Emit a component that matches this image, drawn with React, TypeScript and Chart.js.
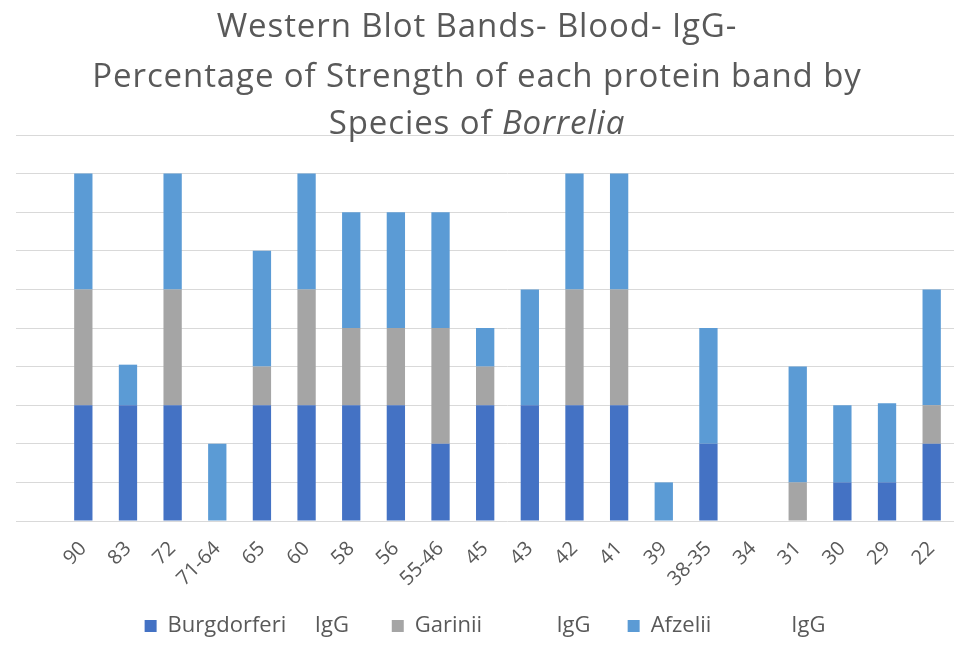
import React, { useEffect, useRef } from "react";
import { Chart, registerables } from "chart.js";

Chart.register(...registerables);

const categories = ["90", "83", "72", "71-64", "65", "60", "58", "56", "55-46", "45", "43", "42", "41", "39", "38-35", "34", "31", "30", "29", "22"];
const burgdorferi = [3, 3, 3, 0, 3, 3, 3, 3, 2, 3, 3, 3, 3, 0, 2, 0, 0, 1, 1, 2];
const garinii = [3, 0, 3, 0, 1, 3, 2, 2, 3, 1, 0, 3, 3, 0, 0, 0, 1, 0, 0, 1];
const afzelii = [3, 1.05, 3, 2, 3, 3, 3, 3, 3, 1, 3, 3, 3, 1, 3, 0, 3, 2, 2.05, 3];
const seriesNames = [
  "Burgdorferi     IgG    ",
  "Garinii             IgG   ",
  "Afzelii              IgG",
];
const titleLines = ["Western Blot Bands- Blood- IgG-", "Percentage of Strength of each protein band by"];
const titleLast = ["Species of ", "Borrelia"];

const FONT = "'Open Sans', sans-serif";
const TEXT = "#595959";

const titlePlugin = {
  id: "customTitle",
  afterDraw(chart: any) {
    const ctx = chart.ctx;
    const cx = 477;
    const size = 33;
    ctx.save();
    ctx.fillStyle = TEXT;
    (ctx as any).letterSpacing = "0.9px";
    ctx.textBaseline = "alphabetic";
    ctx.textAlign = "center";
    ctx.font = `${size}px ${FONT}`;
    ctx.fillText(titleLines[0], cx, 37);
    ctx.fillText(titleLines[1], cx, 87);
    ctx.textAlign = "left";
    const normalFont = `${size}px ${FONT}`;
    const italicFont = `italic ${size}px ${FONT}`;
    ctx.font = normalFont;
    const w1 = ctx.measureText(titleLast[0]).width;
    ctx.font = italicFont;
    const w2 = ctx.measureText(titleLast[1]).width;
    const start = cx - (w1 + w2) / 2;
    ctx.font = normalFont;
    ctx.fillText(titleLast[0], start, 134);
    ctx.font = italicFont;
    ctx.fillText(titleLast[1], start + w1, 134);
    ctx.restore();
  },
};

export default function App() {
  const ref = useRef<HTMLCanvasElement>(null);
  useEffect(() => {
    if (!ref.current) return;
    const chart = new Chart(ref.current, {
      type: "bar",
      data: {
        labels: categories,
        datasets: [
          { label: seriesNames[0], data: burgdorferi, backgroundColor: "#4472C4", borderWidth: 0 },
          { label: seriesNames[1], data: garinii, backgroundColor: "#A5A5A5", borderWidth: 0 },
          { label: seriesNames[2], data: afzelii, backgroundColor: "#5B9BD5", borderWidth: 0 },
        ],
      },
      plugins: [titlePlugin],
      options: {
        responsive: false,
        animation: false,
        layout: { padding: { top: 135, left: 16, right: 9, bottom: 15 } },
        datasets: { bar: { barPercentage: 0.41, categoryPercentage: 1 } },
        plugins: {
          title: { display: false },
          tooltip: { enabled: false },
          legend: {
            position: "bottom",
            labels: {
              color: TEXT,
              font: { family: FONT, size: 22 },
              boxWidth: 12,
              boxHeight: 12,
              padding: 20,
            },
          },
        },
        scales: {
          x: {
            stacked: true,
            grid: { display: false },
            border: { display: false },
            ticks: {
              color: TEXT,
              font: { family: FONT, size: 20 },
              maxRotation: 45,
              minRotation: 45,
              autoSkip: false,
              padding: 8,
            },
            afterFit: (s: any) => {
              s.height = 74;
            },
          },
          y: {
            stacked: true,
            min: 0,
            max: 10,
            ticks: { display: false, stepSize: 1 },
            border: { display: false },
            grid: { color: "#D9D9D9", lineWidth: 1, drawTicks: true, tickLength: 45 },
          },
        },
      },
    });
    return () => chart.destroy();
  }, []);
  return (
    <div style={{ position: "absolute", left: 0, top: 0, width: 963, height: 662, background: "#fff" }}>
      <canvas ref={ref} width={963} height={662} />
    </div>
  );
}
